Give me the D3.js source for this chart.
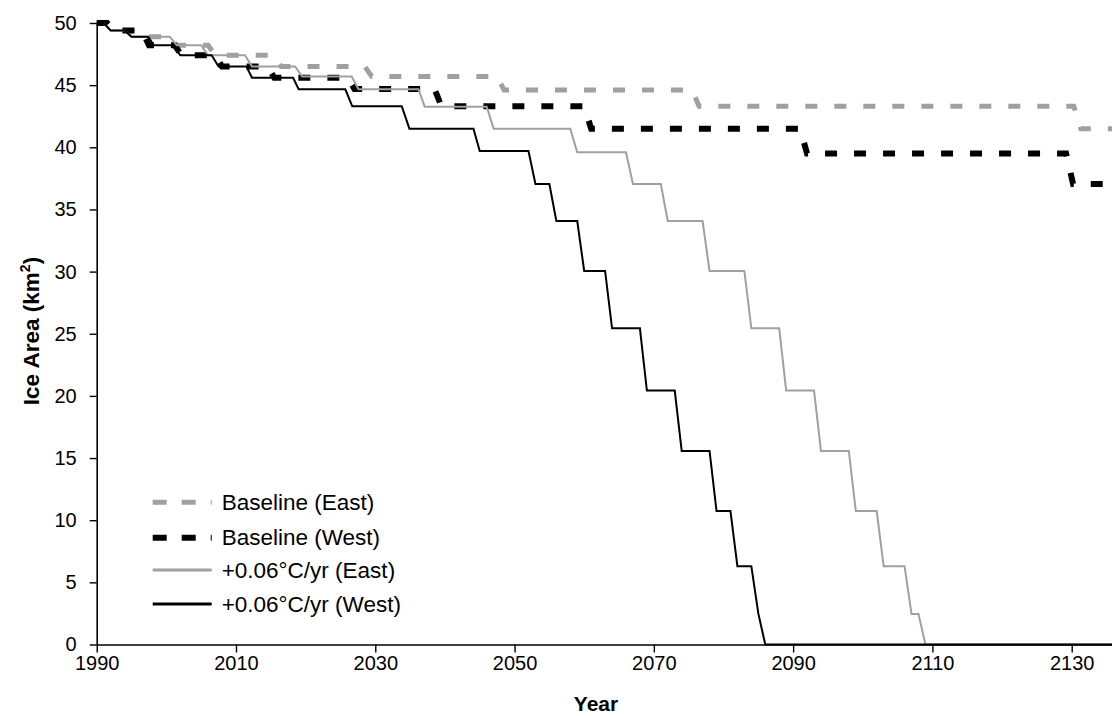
<!DOCTYPE html>
<html>
<head>
<meta charset="utf-8">
<script src="https://cdn.jsdelivr.net/npm/d3@7"></script>
<style>
  html, body { margin: 0; padding: 0; background: #ffffff; }
  svg { display: block; }
</style>
</head>
<body>
<svg id="chart" width="1112" height="716"></svg>
<script>
// step-like ice area series, vertices (year, km2)
const baseEastYears = [1990, 1991.5, 1992.5, 1995, 1996, 2000.5, 2001.5, 2006, 2007, 2015.5, 2016.5, 2028.5, 2029.5, 2047.5, 2048.5, 2075.5, 2076.5, 2130.3, 2131.3, 2137];
const baseEastArea = [50, 50, 49.4, 49.4, 48.9, 48.9, 48.2, 48.2, 47.4, 47.4, 46.5, 46.5, 45.7, 45.7, 44.6, 44.6, 43.3, 43.3, 41.5, 41.5];

const baseWestYears = [1990, 1991.5, 1992.5, 1996.5, 1997.5, 2001.2, 2002.2, 2007, 2008, 2014.5, 2015.5, 2026, 2027, 2038.5, 2039.5, 2060, 2061, 2091, 2092, 2129.2, 2130.2, 2137];
const baseWestArea = [50, 50, 49.4, 49.4, 48.2, 48.2, 47.4, 47.4, 46.5, 46.5, 45.6, 45.6, 44.7, 44.7, 43.3, 43.3, 41.5, 41.5, 39.5, 39.5, 37.05, 37.05];

const warmEastYears = [1990, 1991, 1992, 1994, 1995, 2000.5, 2001.5, 2005, 2006, 2011.3, 2012.3, 2018.5, 2019.5, 2026.6, 2027.6, 2036.2, 2037.1, 2046, 2047, 2058, 2059, 2066, 2067, 2071, 2072, 2077, 2078, 2083, 2084, 2088, 2089, 2093, 2094, 2098, 2099, 2102, 2103, 2106, 2107, 2108, 2109, 2137];
const warmEastArea = [50, 50, 49.4, 49.4, 48.9, 48.9, 48.2, 48.2, 47.4, 47.4, 46.5, 46.5, 45.7, 45.7, 44.67, 44.67, 43.27, 43.27, 41.5, 41.5, 39.6, 39.6, 37.05, 37.05, 34.07, 34.07, 30.05, 30.05, 25.44, 25.44, 20.43, 20.43, 15.57, 15.57, 10.74, 10.74, 6.3, 6.3, 2.45, 2.45, 0, 0];

const warmWestYears = [1990, 1991, 1992, 1994, 1995, 1997.4, 1998.2, 2001, 2002, 2006.5, 2007.5, 2011.5, 2012.3, 2018.2, 2019, 2025.7, 2026.7, 2033.8, 2034.9, 2044.1, 2045, 2052, 2053, 2055, 2056, 2059, 2060, 2063, 2064, 2068, 2069, 2073, 2074, 2078, 2079, 2081, 2082, 2084, 2085, 2086, 2137];
const warmWestArea = [50, 50, 49.4, 49.4, 48.9, 48.9, 48.2, 48.2, 47.4, 47.4, 46.5, 46.5, 45.6, 45.6, 44.67, 44.67, 43.3, 43.3, 41.5, 41.5, 39.7, 39.7, 37.05, 37.05, 34.07, 34.07, 30.05, 30.05, 25.44, 25.44, 20.43, 20.43, 15.57, 15.57, 10.74, 10.74, 6.3, 6.3, 2.5, 0, 0];

const legendLabels = ['Baseline (East)', 'Baseline (West)', '+0.06\u00B0C/yr (East)', '+0.06\u00B0C/yr (West)'];
const xTicks = [1990, 2010, 2030, 2050, 2070, 2090, 2110, 2130];
const yTicks = [0, 5, 10, 15, 20, 25, 30, 35, 40, 45, 50];

const W = 1112;
const H = 716;
const FONT = '"Liberation Sans", Arial, Helvetica, sans-serif';
const GREY = '#a0a0a0';

const series = [
  { name: legendLabels[0], years: baseEastYears, area: baseEastArea, color: GREY, width: 5, dash: '12,17' },
  { name: legendLabels[1], years: baseWestYears, area: baseWestArea, color: '#000000', width: 6, dash: '12,17' },
  { name: legendLabels[2], years: warmEastYears, area: warmEastArea, color: GREY, width: 2, dash: null },
  { name: legendLabels[3], years: warmWestYears, area: warmWestArea, color: '#000000', width: 2, dash: null }
];

const svg = d3.select('#chart')
  .attr('viewBox', `0 0 ${W} ${H}`);

const x = d3.scaleLinear()
  .domain([1990, 2130])
  .range([96.7, 1071.7]);

const y = d3.scaleLinear()
  .domain([0, 50])
  .range([644.5, 23]);

const line = d3.line()
  .x((d) => x(d[0]))
  .y((d) => y(d[1]));

const plot = svg.append('g');

series.forEach((s) => {
  const pts = s.years.map((yr, i) => [yr, s.area[i]]);
  plot.append('path')
    .datum(pts)
    .attr('d', line)
    .attr('fill', 'none')
    .attr('stroke', s.color)
    .attr('stroke-width', s.width)
    .attr('stroke-dasharray', s.dash)
    .attr('stroke-linejoin', 'miter');
});

// axes
const xAxis = svg.append('g')
  .attr('transform', `translate(0, ${y(0)})`)
  .call(d3.axisBottom(x)
    .tickValues(xTicks)
    .tickFormat(d3.format('d'))
    .tickSize(8)
    .tickSizeOuter(0)
    .tickPadding(3));

xAxis.select('.domain')
  .attr('d', `M${x(1990)},0.5H${W}`);

const yAxis = svg.append('g')
  .attr('transform', `translate(${x(1990)}, 0)`)
  .call(d3.axisLeft(y)
    .tickValues(yTicks)
    .tickSize(7)
    .tickSizeOuter(0)
    .tickPadding(13));

[xAxis, yAxis].forEach((g) => {
  g.select('.domain').attr('stroke', '#000').attr('stroke-width', 1.6);
  g.selectAll('.tick line').attr('stroke', '#000').attr('stroke-width', 1.4);
  g.selectAll('.tick text')
    .attr('fill', '#000')
    .attr('font-size', 20)
    .attr('font-family', FONT);
});

svg.append('text')
  .attr('x', 596)
  .attr('y', 711)
  .attr('text-anchor', 'middle')
  .attr('font-size', 21)
  .attr('font-weight', 700)
  .attr('font-family', FONT)
  .text('Year');

const yTitle = svg.append('text')
  .attr('transform', 'translate(39, 331) rotate(-90)')
  .attr('text-anchor', 'middle')
  .attr('font-size', 22.5)
  .attr('font-weight', 700)
  .attr('font-family', FONT);
yTitle.append('tspan').text('Ice Area (km');
yTitle.append('tspan').attr('font-size', 14).attr('dy', -9).text('2');
yTitle.append('tspan').attr('dy', 9).text(')');

// legend
const legendRows = [502.3, 537.7, 570, 604];
const legend = svg.append('g');
series.forEach((s, i) => {
  legend.append('line')
    .attr('x1', 152.7)
    .attr('x2', 211.7)
    .attr('y1', legendRows[i])
    .attr('y2', legendRows[i])
    .attr('stroke', s.color)
    .attr('stroke-width', s.dash ? s.width : 3)
    .attr('stroke-dasharray', s.dash ? '14,15' : null);

  legend.append('text')
    .attr('x', 221.7)
    .attr('y', legendRows[i])
    .attr('dominant-baseline', 'central')
    .attr('font-size', 22.5)
    .attr('font-family', FONT)
    .attr('fill', '#000')
    .text(s.name);
});
</script>
</body>
</html>
